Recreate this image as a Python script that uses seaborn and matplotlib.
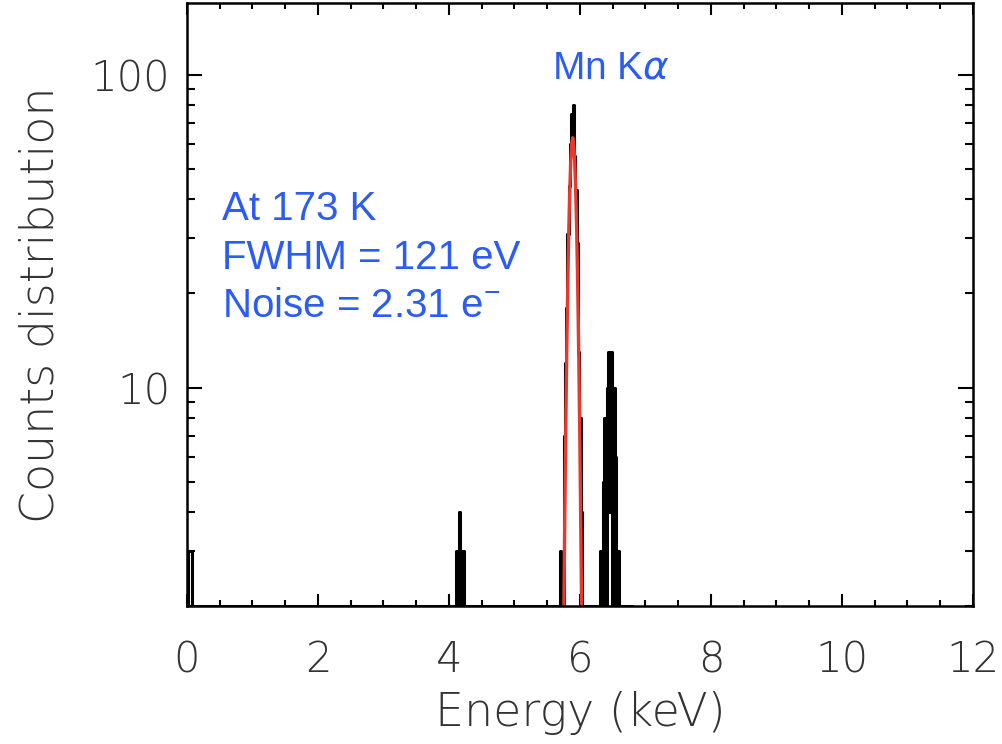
import numpy as np
import pandas as pd
import seaborn as sns
import matplotlib.pyplot as plt
from matplotlib.ticker import MultipleLocator, LogLocator, NullFormatter

# Mn-55 spectrum: histogram of event energies, bins of 0.02 keV
bin_width = 0.02
hist_max_energy = 6.80
# only the bins with counts are listed, all other bins are empty
line_energy = [0.02, 0.04, 0.06,
               4.12, 4.16, 4.18, 4.22,
               5.70, 5.76, 5.78, 5.80, 5.82, 5.84, 5.86, 5.88, 5.90,
               5.92, 5.94, 5.96, 5.98, 6.00, 6.02,
               6.32, 6.36, 6.38, 6.42, 6.44, 6.46, 6.48, 6.52, 6.54, 6.58]
line_counts = [3, 3, 3,
               3, 4, 3, 3,
               3, 7, 12, 18, 31, 44, 60, 75, 80,
               55, 43, 29, 13, 8, 4,
               3, 5, 8, 10, 13, 4, 13, 10, 6, 3]

# gaussian fit of the Mn K-alpha line
fit_energy = [5.755, 5.77, 5.785, 5.80, 5.815, 5.83, 5.845, 5.86, 5.875, 5.89,
              5.905, 5.92, 5.935, 5.95, 5.965, 5.98, 5.995, 6.01, 6.025]
fit_counts = [2.0, 4.1, 7.8, 13.6, 21.7, 32, 43, 53, 60.4, 63,
              60.4, 53, 43, 32, 21.7, 13.6, 7.8, 4.1, 2.0]

info_lines = ["At 173 K", "FWHM = 121 eV", "Noise = 2.31 e$^{-}$"]

y_min, y_max = 2, 170

sns.set_style("ticks")
plt.rcParams['font.family'] = ['DejaVu Sans']
plt.rcParams['mathtext.fontset'] = 'custom'
plt.rcParams['mathtext.rm'] = 'Liberation Sans'
plt.rcParams['mathtext.it'] = 'DejaVu Sans:italic'

n_bins = int(round(hist_max_energy / bin_width)) + 1
energy = np.arange(n_bins) * bin_width
counts = np.zeros(n_bins)
counts[np.rint(np.array(line_energy) / bin_width).astype(int)] = line_counts
# empty bins are drawn along the bottom of the log axis
df = pd.DataFrame({"energy": energy, "counts": np.clip(counts, y_min, None)})
fit = pd.DataFrame({"energy": fit_energy, "counts": fit_counts})

fig = plt.figure(figsize=(10.03, 7.44), dpi=100)
ax = fig.add_axes([0.1864, 0.1855, 0.7836, 0.8105])

sns.lineplot(data=df, x="energy", y="counts", drawstyle="steps-mid",
             color="black", linewidth=2.2, estimator=None, ax=ax)
sns.lineplot(data=fit, x="energy", y="counts", color="#e8392c",
             linewidth=2.4, estimator=None, sort=False, ax=ax)

ax.set_yscale("log")
ax.set_xlim(0, 12)
ax.set_ylim(y_min, y_max)

ax.xaxis.set_major_locator(MultipleLocator(2))
ax.xaxis.set_minor_locator(MultipleLocator(0.5))
ax.set_yticks([10, 100], labels=["10", "100"])
ax.yaxis.set_minor_locator(LogLocator(base=10, subs=range(2, 10)))
ax.yaxis.set_minor_formatter(NullFormatter())

ax.tick_params(which="both", direction="in", top=True, right=True,
               width=1.5, color="black", labelcolor="#333333", labelsize=30)
ax.tick_params(axis="y", which="major", length=11, pad=12)
ax.tick_params(axis="y", which="minor", length=5.5)
ax.tick_params(axis="x", which="major", length=8.5, pad=24)
ax.tick_params(axis="x", which="minor", length=4.5)
for lab in ax.get_xticklabels() + ax.get_yticklabels():
    lab.set_fontweight(200)

for sp in ax.spines.values():
    sp.set_linewidth(1.8)
    sp.set_color("black")

ax.set_xlabel("Energy (keV)", fontsize=33, color="#333333", fontweight=200, labelpad=8)
ax.set_ylabel("Counts distribution", fontsize=33, color="#333333", fontweight=200, labelpad=20)

blue = "#2b5cf4"
ax.text(0.539, 0.874, r"Mn K$\alpha$", transform=ax.transAxes, ha="center",
        va="baseline", color=blue, fontsize=28, family="Liberation Sans")
for i, line in enumerate(info_lines):
    ax.text(0.0445, 0.640 - i * 0.0805, line, transform=ax.transAxes, ha="left",
            va="baseline", color=blue, fontsize=29, family="Liberation Sans")

fig.savefig("out.png", dpi=100)
